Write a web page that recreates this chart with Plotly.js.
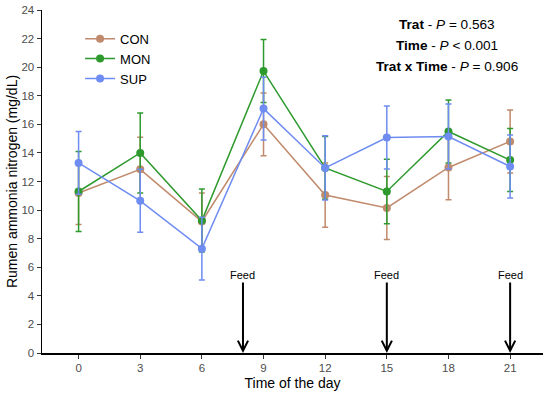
<!DOCTYPE html>
<html>
<head>
<meta charset="utf-8">
<script src="https://cdn.plot.ly/plotly-3.0.1.min.js"></script>
<style>html,body{margin:0;padding:0;background:#fff}#chart{width:550px;height:393px}</style>
</head>
<body>
<div id="chart"></div>
<script>
var times = [0, 3, 6, 9, 12, 15, 18, 21];
var conMean = [11.2, 12.85, 9.2, 16.0, 11.05, 10.15, 12.98, 14.8];
var conErr  = [2.2, 2.25, 2.0, 2.2, 2.25, 2.2, 2.25, 2.2];
var monMean = [11.3, 14.0, 9.27, 19.73, 12.95, 11.3, 15.5, 13.5];
var monErr  = [2.8, 2.8, 2.2, 2.2, 2.2, 2.25, 2.2, 2.2];
var supMean = [13.3, 10.65, 7.3, 17.1, 12.95, 15.08, 15.15, 13.05];
var supErr  = [2.2, 2.2, 2.2, 2.2, 2.25, 2.2, 2.28, 2.2];
var seriesNames = ["CON", "MON", "SUP"];
var seriesColors = ["#C08A6C", "#2E9A2E", "#6E8CF2"];
var feedTimes = [8, 15, 21];
var pLabels = ["<b>Trat</b> - <i>P</i> = 0.563", "<b>Time</b> - <i>P</i> < 0.001", "<b>Trat x Time</b> - <i>P</i> = 0.906"];

var means = [conMean, monMean, supMean];
var errs = [conErr, monErr, supErr];
var font = "Liberation Sans, Arial, sans-serif";

var traces = seriesNames.map(function(n, i) {
  return {
    type: "scatter", mode: "lines+markers", name: n,
    x: times, y: means[i],
    line: {color: seriesColors[i], width: 1.5},
    marker: {color: seriesColors[i], size: 8},
    error_y: {type: "data", array: errs[i], visible: true, color: seriesColors[i], thickness: 1.5, width: 3}
  };
});

var annotations = [];
feedTimes.forEach(function(t) {
  annotations.push({
    x: t, y: 0, xref: "x", yref: "y", ax: t, ay: 5.45, axref: "x", ayref: "y",
    text: "Feed", showarrow: true, arrowhead: 5, arrowsize: 1, arrowwidth: 2, arrowcolor: "#000",
    standoff: 0, font: {family: font, size: 11, color: "#000"}
  });
});
pLabels.forEach(function(s, i) {
  annotations.push({
    x: 0.808, y: [0.958, 0.897, 0.836][i], xref: "paper", yref: "paper",
    text: s, showarrow: false, xanchor: "center", yanchor: "middle",
    font: {family: font, size: 13.6, color: "#000"}
  });
});

var layout = {
  width: 550, height: 393,
  margin: {l: 42, r: 7, t: 10, b: 40},
  paper_bgcolor: "#fff", plot_bgcolor: "#fff",
  font: {family: font, color: "#000"},
  showlegend: true,
  legend: {x: 0.076, y: 0.96, xanchor: "left", yanchor: "top", bgcolor: "rgba(0,0,0,0)",
           font: {family: font, size: 13, color: "#000"}, tracegroupgap: 0},
  xaxis: {
    range: [-1.78, 22.6], tickvals: times, ticktext: times.map(String),
    showgrid: false, zeroline: false, showline: true, linecolor: "#000", linewidth: 1.5,
    ticks: "outside", ticklen: 4, tickcolor: "#333", tickwidth: 1,
    tickfont: {family: font, size: 11.5, color: "#4d4d4d"},
    title: {text: "Time of the day", font: {family: font, size: 14, color: "#000"}, standoff: 5}
  },
  yaxis: {
    range: [0, 24], dtick: 2, tick0: 0,
    showgrid: false, zeroline: false, showline: true, linecolor: "#000", linewidth: 1.5,
    ticks: "outside", ticklen: 4, tickcolor: "#333", tickwidth: 1,
    tickfont: {family: font, size: 11.5, color: "#4d4d4d"},
    title: {text: "Rumen ammonia nitrogen (mg/dL)", font: {family: font, size: 14, color: "#000"}, standoff: 0}
  },
  annotations: annotations
};

Plotly.newPlot("chart", traces, layout, {displayModeBar: false, staticPlot: true});
</script>
</body>
</html>
